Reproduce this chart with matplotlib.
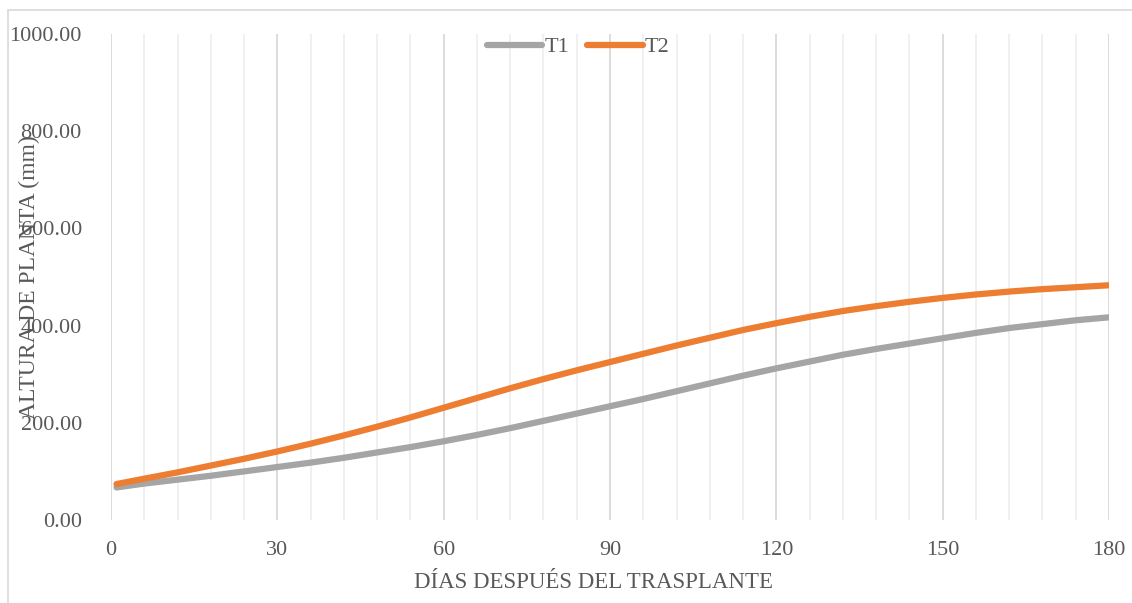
import matplotlib
matplotlib.use('Agg')
import matplotlib.pyplot as plt
from matplotlib.patches import Rectangle
from matplotlib.ticker import MultipleLocator

plt.rcParams['font.family'] = ['Liberation Serif', 'DejaVu Serif']

days = [1, 6, 12, 18, 24, 30, 36, 42, 48, 54, 60, 66, 72, 78, 84, 90,
        96, 102, 108, 114, 120, 126, 132, 138, 144, 150, 156, 162, 168, 174, 180]
t1 = [67, 75, 83, 91, 100, 109, 118, 128, 139, 150, 162, 175, 189, 204, 219, 234,
      249, 265, 281, 297, 312, 326, 340, 352, 363, 374, 385, 395, 403, 411, 417]
t2 = [74, 85, 98, 112, 126, 141, 157, 174, 192, 211, 231, 251, 271, 290, 308, 325,
      342, 359, 375, 391, 405, 418, 430, 440, 449, 457, 464, 470, 475, 479, 483]

txt = '#595959'

fig = plt.figure(figsize=(11.32, 6.03), dpi=100)
ax = fig.add_axes([111/1132, 1 - 520/603, 998/1132, 486/603])

ax.plot(days, t1, color='#a5a5a5', linewidth=4.5, solid_capstyle='round', label='T1')
ax.plot(days, t2, color='#ed7d31', linewidth=4.5, solid_capstyle='round', label='T2')

ax.set_xlim(0, 180)
ax.set_ylim(0, 1000)
ax.xaxis.set_major_locator(MultipleLocator(30))
ax.xaxis.set_minor_locator(MultipleLocator(6))
ax.yaxis.set_major_locator(MultipleLocator(200))
ax.yaxis.set_major_formatter(lambda v, p: f'{v:.2f}')
ax.grid(which='major', axis='x', color='#d9d9d9', linewidth=1.3)
ax.grid(which='minor', axis='x', color='#efefef', linewidth=1.3)
ax.set_axisbelow(True)
for sp in ax.spines.values():
    sp.set_visible(False)
ax.tick_params(which='both', length=0, labelsize=16, labelcolor=txt)
ax.tick_params(axis='y', pad=21)
ax.tick_params(axis='x', pad=15)

# label sits over the tick labels, as in the original
ax.set_ylabel('ALTURA DE PLANTA (mm)', fontsize=17, color=txt)
ax.yaxis.set_label_coords(-0.071, 0.5)
fig.text(594/1132, 1 - 583/603, 'DÍAS DESPUÉS DEL TRASPLANTE', fontsize=16.5,
         color=txt, ha='center', va='center')

leg = ax.legend(loc='center', bbox_to_anchor=(0.468, 0.973), ncol=2, frameon=False,
                fontsize=16, handlelength=2.5, handletextpad=0.1, columnspacing=0.8,
                borderaxespad=0)
for t in leg.get_texts():
    t.set_color(txt)

fig.patches.append(Rectangle((8/1132, -0.05), 1.1, 1 - 10/603 + 0.05,
                             transform=fig.transFigure, fill=False,
                             edgecolor='#d9d9d9', linewidth=1.2))

fig.savefig('out.png', dpi=100)
